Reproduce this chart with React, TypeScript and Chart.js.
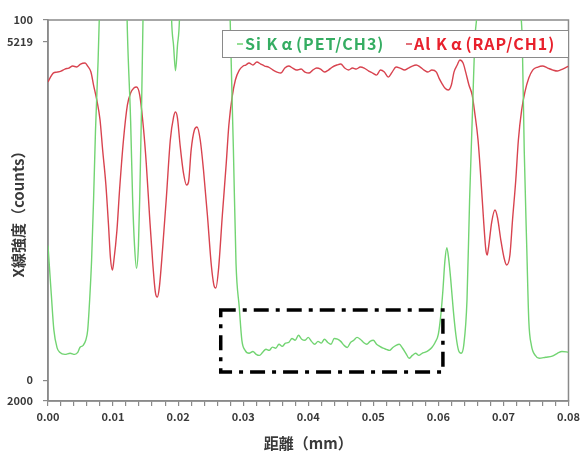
import React, { useEffect, useRef } from 'react';
import { Chart, registerables } from 'chart.js';

Chart.register(...registerables);

// ---------- data ----------
const siDist = [
  0, 0.0005, 0.0009, 0.0014, 0.0018, 0.0026, 0.0034, 0.0041, 0.0046, 0.0049,
  0.0054, 0.0058, 0.0061, 0.0064, 0.0067, 0.007, 0.0073, 0.0077, 0.008, 0.0086,
  0.0116, 0.0122, 0.0127, 0.013, 0.0133, 0.0136, 0.0139, 0.0141, 0.0144, 0.0146,
  0.015, 0.0184, 0.019, 0.0193, 0.0196, 0.0199, 0.0202, 0.0208, 0.0275, 0.028,
  0.0285, 0.0289, 0.0294, 0.0298, 0.0303, 0.0309,
  0.0315, 0.032, 0.0325, 0.033, 0.0335, 0.034, 0.0345, 0.035, 0.0355, 0.036,
  0.0365, 0.037, 0.0375, 0.038, 0.0385, 0.039, 0.0395, 0.04, 0.0405, 0.041,
  0.0415, 0.042, 0.0425, 0.043, 0.0435, 0.044, 0.0445, 0.045, 0.0455, 0.046,
  0.0465, 0.047, 0.0475, 0.048, 0.0485, 0.049, 0.0495, 0.05, 0.0505, 0.051,
  0.0515, 0.052, 0.0525, 0.053, 0.0535, 0.054, 0.0545, 0.055, 0.0555, 0.056,
  0.0565, 0.057, 0.0575, 0.058, 0.0585, 0.059, 0.0595, 0.06,
  0.0604, 0.0607, 0.061, 0.0613, 0.0616, 0.0619, 0.0623, 0.0627, 0.0631, 0.0635,
  0.0639, 0.0644, 0.0648, 0.0653, 0.0656, 0.066, 0.0665, 0.072, 0.0726, 0.0729,
  0.0732, 0.0736, 0.0739, 0.0743, 0.0749, 0.0755, 0.0765, 0.0775, 0.0783, 0.079,
  0.08,
];
const siCounts = [
  37.4, 24, 14, 9, 7.8, 7.2, 7.5, 7.2, 7.8, 9.1,
  9.7, 11.1, 13.9, 22.2, 33.3, 49.9, 69.3, 88.7, 108, 150,
  150, 97, 72, 50.7, 37.4, 31.1, 37.4, 50.7, 77.6, 100,
  150, 150, 100, 92.9, 85.9, 92.9, 100, 150, 150, 100,
  63.8, 32.4, 20.2, 11.1, 8.3, 7.5,
  8.0, 7.2, 6.9, 7.8, 8.6, 8.3, 9.2, 8.9, 10.0, 9.4,
  10.3, 10.5, 11.6, 11.1, 12.5, 11.4, 11.1, 11.9, 10.8, 10.0,
  10.8, 10.3, 11.4, 10.5, 10.0, 11.6, 11.4, 10.8, 9.7, 9.1,
  10.5, 11.1, 11.9, 11.4, 10.5, 10.0, 10.8, 11.1, 10.0, 9.4,
  8.9, 8.6, 8.3, 9.1, 9.7, 10.0, 8.9, 7.5, 6.1, 6.9,
  7.5, 6.9, 7.5, 7.8, 8.3, 9.1, 10.5, 12.8,
  18.5, 25, 33, 36.8, 33.5, 28, 19.4, 12.5, 8.3, 7.5,
  9.7, 22.2, 49.9, 77.6, 94.3, 105, 150, 150, 105, 94,
  63.8, 36, 16.6, 9.7, 6.9, 6.1, 6.4, 6.7, 7.5, 8.0,
  7.8,
];

const alDist = [
  0, 0.0003, 0.0008, 0.0014, 0.002, 0.0026, 0.0032, 0.0038, 0.0044, 0.005,
  0.0057, 0.0061, 0.0066, 0.007, 0.0075, 0.008, 0.0084, 0.0089, 0.0093, 0.0096,
  0.0099, 0.0101, 0.0106, 0.011, 0.0116, 0.0122, 0.0127, 0.0132, 0.0136, 0.0141,
  0.0147, 0.0151, 0.0156, 0.0161, 0.0165, 0.0168, 0.0171, 0.0176, 0.0182, 0.0188,
  0.0193, 0.0196, 0.0199, 0.0203, 0.0208, 0.0213, 0.0216, 0.022, 0.0225, 0.0229,
  0.0234, 0.0239, 0.0245, 0.0251, 0.0255, 0.0258, 0.0262, 0.0268, 0.0274, 0.0278,
  0.0283, 0.0288, 0.0294, 0.03, 0.0304,
  0.0309, 0.0315, 0.0321, 0.0327, 0.0333, 0.0339, 0.0346, 0.0352, 0.0358, 0.0364,
  0.037, 0.0376, 0.0382, 0.0389, 0.0395, 0.0401, 0.0407, 0.0413, 0.0419, 0.0425,
  0.0431, 0.0437, 0.0444, 0.045, 0.0456, 0.0462, 0.0468, 0.0474, 0.048, 0.0486,
  0.0493, 0.0499, 0.0505, 0.0511, 0.0517, 0.0523, 0.0529, 0.0535, 0.0541, 0.0548,
  0.0554, 0.056, 0.0566, 0.0572, 0.0578, 0.0584, 0.059, 0.0597,
  0.0601, 0.0606, 0.061, 0.0615, 0.062, 0.0624, 0.0629, 0.0633, 0.0638, 0.0642,
  0.0647, 0.0652, 0.0656, 0.0661, 0.0665, 0.067, 0.0673, 0.0675, 0.0677, 0.0682,
  0.0687, 0.0691, 0.0696, 0.0701, 0.0705, 0.071, 0.0714, 0.0719, 0.0723, 0.0728,
  0.0733, 0.0739, 0.0745, 0.0753, 0.076, 0.0768, 0.0776, 0.0783, 0.0791, 0.08,
];
const alCounts = [
  4855, 4890, 4935, 4944, 4953, 4971, 4980, 4998, 4990, 5016,
  5025, 4998, 4944, 4828, 4694, 4515, 4246, 3933, 3575, 3280,
  3172, 3244, 3530, 3888, 4336, 4649, 4756, 4801, 4810, 4738,
  4425, 4130, 3665, 3235, 2975, 2931, 3011, 3351, 3826, 4336,
  4541, 4586, 4532, 4291, 4049, 3933, 3960, 4246, 4425, 4452,
  4336, 4067, 3665, 3217, 3038, 3011, 3172, 3665, 4130, 4470,
  4720, 4873, 4962, 4998, 5007,
  5025, 5007, 5034, 5016, 4998, 4989, 4962, 4944, 4935, 4980,
  4998, 4980, 4962, 4971, 4944, 4935, 4962, 4980, 4971, 4944,
  4962, 4989, 5007, 5016, 4980, 4962, 4980, 4971, 4989, 4980,
  4953, 4935, 4917, 4962, 4944, 4899, 4944, 4989, 4980, 4962,
  4980, 4998, 5007, 4989, 4962, 4944, 4962, 4944,
  4890, 4837, 4801, 4783, 4828, 4944, 5007, 5052, 5025, 4944,
  4828, 4738, 4577, 4336, 4022, 3575, 3352, 3307, 3369, 3602,
  3709, 3638, 3441, 3280, 3217, 3307, 3620, 3978, 4336, 4604,
  4765, 4890, 4962, 4989, 4998, 4980, 4962, 4953, 4971, 4998,
];

const siLabelParts = ['Si K', 'α', '(PET/CH3)'];
const alLabelParts = ['Al K', 'α', '(RAP/CH1)'];
const xTitle = '距離（mm）';
const yTitle = 'X線強度（counts）';

const xRange = [0, 0.08];
const siRange = [-5.75, 100];
const alRange = [2000, 5410];
const siAxisTicks = [0, 100];
const alAxisTicks = [2000, 5219];

// highlighted region (x in mm, y on the Si scale)
const highlightX = [0.02655, 0.0607];
const highlightY = [2.3, 19.5];

const FONT = "'Noto Sans CJK JP', 'Noto Sans', sans-serif";
const SI_LINE = '#72d472';
const AL_LINE = '#d8434f';
const SI_TEXT = '#35ad62';
const AL_TEXT = '#e8202c';
const AXIS = '#8a8a8a';
const TEXT = '#3a3a3a';

function drawEntry(ctx: any, parts: string[], x: number, cy: number, lineColor: string, textColor: string) {
  ctx.strokeStyle = lineColor;
  ctx.lineWidth = 1.5;
  ctx.beginPath();
  ctx.moveTo(x, cy);
  ctx.lineTo(x + 6, cy);
  ctx.stroke();
  ctx.fillStyle = textColor;
  let cx = x + 8;
  parts.forEach((p, i) => {
    ctx.fillText(p, cx, cy);
    cx += ctx.measureText(p).width + (i < parts.length - 1 ? 3 : 0);
  });
}

export default function App() {
  const ref = useRef<HTMLCanvasElement>(null);

  useEffect(() => {
    const canvas = ref.current;
    if (!canvas) return;

    const toSi = (v: number) =>
      siRange[0] + ((v - alRange[0]) / (alRange[1] - alRange[0])) * (siRange[1] - siRange[0]);
    const yTickList = [
      ...siAxisTicks.map((v) => ({ value: v, label: String(v) })),
      ...alAxisTicks.map((v) => ({ value: toSi(v), label: String(v) })),
    ].sort((a, b) => a.value - b.value);

    const framePlugin = {
      id: 'frame',
      beforeDatasetsDraw(chart: any) {
        const { ctx, chartArea: a } = chart;
        ctx.save();
        ctx.strokeStyle = AXIS;
        ctx.lineWidth = 1.5;
        ctx.strokeRect(a.left, a.top, a.right - a.left, a.bottom - a.top);
        ctx.restore();
      },
    };

    const overlayPlugin = {
      id: 'overlay',
      afterDatasetsDraw(chart: any) {
        const { ctx, scales } = chart;
        const xs = scales.x;
        const ys = scales.y;
        // dash-dot highlight box
        const x0 = xs.getPixelForValue(highlightX[0]);
        const x1 = xs.getPixelForValue(highlightX[1]);
        const y0 = ys.getPixelForValue(highlightY[1]);
        const y1 = ys.getPixelForValue(highlightY[0]);
        ctx.save();
        ctx.strokeStyle = '#000';
        ctx.lineWidth = 3.5;
        ctx.setLineDash([15, 7, 4, 7]);
        ctx.strokeRect(x0, y0, x1 - x0, y1 - y0);
        ctx.restore();

        // legend box
        const lx = 222, ly = 30, lw = 346, lh = 27;
        ctx.save();
        ctx.fillStyle = '#fff';
        ctx.fillRect(lx, ly, lw, lh);
        ctx.strokeStyle = AXIS;
        ctx.lineWidth = 1;
        ctx.strokeRect(lx + 0.5, ly + 0.5, lw, lh);
        const cy = ly + lh / 2 + 0.5;
        ctx.font = `bold 16px ${FONT}`;
        ctx.textBaseline = 'middle';
        ctx.textAlign = 'left';
        try {
          ctx.letterSpacing = '1px';
        } catch (e) {}
        drawEntry(ctx, siLabelParts, 237, cy, SI_LINE, SI_TEXT);
        drawEntry(ctx, alLabelParts, 406, cy, AL_LINE, AL_TEXT);
        ctx.restore();
      },
    };

    const chart = new Chart(canvas, {
      type: 'line',
      data: {
        datasets: [
          {
            label: siLabelParts.join(''),
            data: siDist.map((d, i) => ({ x: d, y: siCounts[i] })),
            borderColor: SI_LINE,
            borderWidth: 1.4,
            pointRadius: 0,
            cubicInterpolationMode: 'monotone',
            yAxisID: 'y',
          },
          {
            label: alLabelParts.join(''),
            data: alDist.map((d, i) => ({ x: d, y: alCounts[i] })),
            borderColor: AL_LINE,
            borderWidth: 1.4,
            pointRadius: 0,
            cubicInterpolationMode: 'monotone',
            yAxisID: 'y2',
          },
        ],
      },
      options: {
        responsive: false,
        animation: false,
        devicePixelRatio: 1,
        layout: { padding: { top: 20, right: 13, left: 0, bottom: 0 } },
        plugins: {
          legend: { display: false },
          tooltip: { enabled: false },
        },
        scales: {
          x: {
            type: 'linear',
            min: xRange[0],
            max: xRange[1],
            afterFit: (s: any) => {
              s.height = 56;
            },
            afterBuildTicks: (s: any) => {
              const t = [];
              for (let i = 0; i <= 40; i++) t.push({ value: i * 0.002 });
              s.ticks = t;
            },
            ticks: {
              autoSkip: false,
              maxRotation: 0,
              padding: 4,
              color: TEXT,
              font: { family: FONT, size: 11, weight: 'bold' },
              callback: (v: any) => {
                const r = Math.round(Number(v) * 1000);
                return r % 10 === 0 ? (r / 1000).toFixed(2) : '';
              },
            },
            grid: {
              drawOnChartArea: false,
              drawTicks: true,
              tickLength: 5,
              color: AXIS,
              lineWidth: 1.2,
            },
            border: { color: AXIS, width: 1.5 },
            title: {
              display: true,
              text: xTitle,
              color: TEXT,
              font: { family: FONT, size: 15, weight: 'bold' },
              padding: { top: 0, bottom: 5 },
            },
          },
          y: {
            type: 'linear',
            position: 'left',
            min: siRange[0],
            max: siRange[1],
            afterFit: (s: any) => {
              s.width = 48;
            },
            afterBuildTicks: (s: any) => {
              s.ticks = yTickList.map((t) => ({ value: t.value }));
            },
            ticks: {
              padding: 10,
              color: TEXT,
              font: { family: FONT, size: 11, weight: 'bold' },
              callback: (v: any) => {
                const f = yTickList.find((t) => Math.abs(t.value - Number(v)) < 1e-6);
                return f ? f.label : '';
              },
            },
            grid: {
              drawOnChartArea: false,
              drawTicks: true,
              tickLength: 5,
              color: AXIS,
              lineWidth: 1.2,
            },
            border: { color: AXIS, width: 1.5 },
            title: {
              display: true,
              text: yTitle,
              color: TEXT,
              font: { family: FONT, size: 15, weight: 'bold' },
              padding: { top: 9, bottom: 0 },
            },
          },
          y2: {
            type: 'linear',
            display: false,
            min: alRange[0],
            max: alRange[1],
          },
        },
      },
      plugins: [framePlugin, overlayPlugin],
    } as any);

    return () => chart.destroy();
  }, []);

  return (
    <div style={{ position: 'fixed', left: 0, top: 0, width: 584, height: 457, background: '#fff' }}>
      <canvas ref={ref} width={584} height={457} style={{ width: 584, height: 457, display: 'block' }} />
    </div>
  );
}
